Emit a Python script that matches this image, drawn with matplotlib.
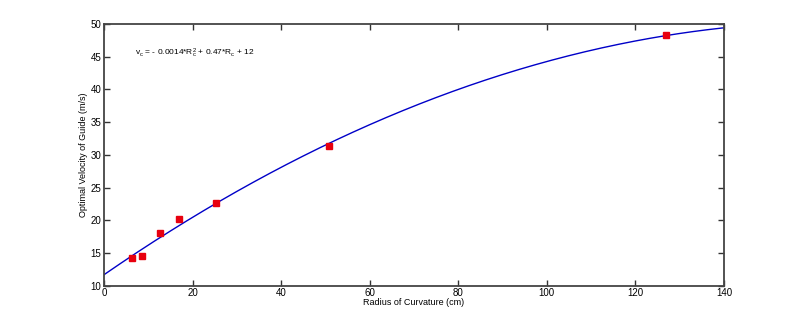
import numpy as np
import matplotlib
matplotlib.use("Agg")
import matplotlib.pyplot as plt

plt.rcParams['font.family'] = ['Liberation Sans', 'DejaVu Sans']
plt.rcParams['mathtext.fontset'] = 'custom'
plt.rcParams['mathtext.rm'] = 'Liberation Sans'
plt.rcParams['mathtext.it'] = 'Liberation Sans'

radius = [6.35, 8.47, 12.7, 16.9, 25.4, 50.8, 127.0]
velocity = [14.2, 14.6, 18.0, 20.2, 22.7, 31.3, 48.3]
xticks = [0, 20, 40, 60, 80, 100, 120, 140]
yticks = [10, 15, 20, 25, 30, 35, 40, 45, 50]

fig = plt.figure(figsize=(8, 3.21), dpi=100)
ax = fig.add_axes([0.13, 0.11, 0.775, 0.815])

coef = np.polyfit(radius, velocity, 2)
xs = np.linspace(0, 140, 300)
ax.plot(xs, np.polyval(coef, xs), color='#0000c8', lw=1.0, zorder=2)
ax.plot(radius, velocity, 's', color='#e8000f', ms=5, mec='#e8000f', zorder=3)

ax.set_xlim(0, 140)
ax.set_ylim(10, 50)
ax.set_xticks(xticks)
ax.set_yticks(yticks)
ax.tick_params(direction='in', top=True, right=True, labeltop=False, labelright=False,
               length=4.5, width=1, color='#333333', labelsize=7, pad=2)
for s in ax.spines.values():
    s.set_color('#444444')
    s.set_linewidth(1.3)

ax.set_xlabel('Radius of Curvature (cm)', fontsize=6.5, labelpad=0)
ax.set_ylabel('Optimal Velocity of Guide (m/s)', fontsize=6.5, labelpad=1.5)

ax.text(7, 45.6, r'v$_{\mathrm{c}}$ = - 0.0014*R$_{\mathrm{c}}^{2}$ + 0.47*R$_{\mathrm{c}}$ + 12',
        fontsize=6, va='center', ha='left')

fig.savefig('out.png', dpi=100)
